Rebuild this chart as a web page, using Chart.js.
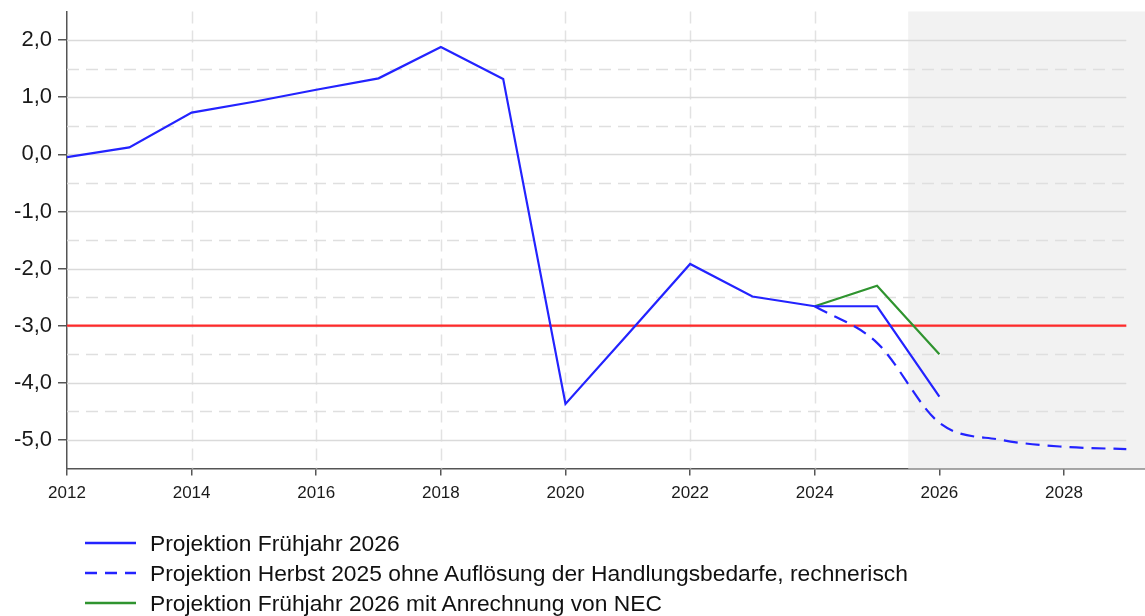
<!DOCTYPE html>
<html><head><meta charset="utf-8">
<script src="https://cdn.jsdelivr.net/npm/chart.js@4.4.1/dist/chart.umd.min.js"></script>
<style>
html,body{margin:0;padding:0;background:#fff;}
#wrap{position:relative;width:1145px;height:616px;overflow:hidden;font-family:"Liberation Sans",Arial,sans-serif;}
#cbox{position:absolute;left:0;top:0;width:1145px;height:516px;}
#legend{position:absolute;left:0;top:0;width:1145px;height:616px;pointer-events:none;}
.li{position:absolute;left:85px;height:30px;display:flex;align-items:center;white-space:nowrap;font-size:22.8px;color:#111;}
.li svg{margin-right:14px;}
</style>
</head><body>
<div id="wrap">
  <div id="cbox"><canvas id="c"></canvas></div>
  <div id="legend"></div>
</div>
<script>
// ---- data ----
const years = [2012,2013,2014,2015,2016,2017,2018,2019,2020,2021,2022,2023,2024,2025,2026];
const fruehjahr2026 = [-0.05,0.12,0.73,0.92,1.13,1.33,1.88,1.32,-4.37,-3.15,-1.92,-2.49,-2.66,-2.66,-4.24];
const herbstYears = [2024,2025,2026,2027,2028,2029];
const herbst2025 = [-2.66,-3.30,-4.70,-5.00,-5.12,-5.16];
const necYears = [2024,2025,2026];
const nec = [-2.66,-2.30,-3.50];
const refYears = [2012,2029];
const referenzwert = [-3,-3];
const xTicks = [2012,2014,2016,2018,2020,2022,2024,2026,2028];
const yTicks = [-5,-4,-3,-2,-1,0,1,2];
const labels = ["Projektion Frühjahr 2026","Projektion Herbst 2025 ohne Auflösung der Handlungsbedarfe, rechnerisch","Projektion Frühjahr 2026 mit Anrechnung von NEC","Referenzwert -3 %"];
const projectionStart = 2025.5;

const pts = (xs, ys) => xs.map((x,i)=>({x:x, y:ys[i]}));
const BLUE = '#2323ff', GREEN = '#2f942f', RED = '#ff2a2a';

const bgPlugin = {
  id:'bg',
  beforeDatasetsDraw(chart){
    const {ctx, chartArea:a, scales:{x,y}} = chart;
    ctx.save();
    ctx.fillStyle = '#f2f2f2';
    const sx = x.getPixelForValue(projectionStart);
    ctx.fillRect(sx, a.top, a.right - sx, a.bottom - a.top);
    ctx.strokeStyle = '#e2e2e2';
    ctx.lineWidth = 1.5;
    ctx.setLineDash([12,7]);
    xTicks.filter(v=>v>2012 && v<projectionStart).forEach(v=>{
      const px = Math.round(x.getPixelForValue(v))+0.5;
      ctx.beginPath(); ctx.moveTo(px,a.top); ctx.lineTo(px,a.bottom); ctx.stroke();
    });
    const x0 = x.getPixelForValue(refYears[0]), x1 = x.getPixelForValue(refYears[1]);
    for (let v = yTicks[0]; v <= yTicks[yTicks.length-1]; v += 0.5){
      const py = Math.round(y.getPixelForValue(v))+0.5;
      ctx.setLineDash(Number.isInteger(v) ? [] : [12,7]);
      ctx.strokeStyle = Number.isInteger(v) ? '#dadada' : '#dfdfdf';
      ctx.lineWidth = 1.6;
      ctx.beginPath(); ctx.moveTo(x0,py); ctx.lineTo(x1,py); ctx.stroke();
    }
    ctx.restore();
  }
};

const chart = new Chart(document.getElementById('c'), {
  type:'line',
  data:{
    datasets:[
      {label:labels[0], data:pts(years,fruehjahr2026), borderColor:BLUE, backgroundColor:BLUE, borderWidth:2.2, pointRadius:0, tension:0},
      {label:labels[1], data:pts(herbstYears,herbst2025), borderColor:BLUE, backgroundColor:BLUE, borderWidth:2.2, borderDash:[14,8], pointRadius:0, cubicInterpolationMode:'monotone'},
      {label:labels[2], data:pts(necYears,nec), borderColor:GREEN, backgroundColor:GREEN, borderWidth:2.2, pointRadius:0, tension:0},
      {label:labels[3], data:pts(refYears,referenzwert), borderColor:RED, backgroundColor:RED, borderWidth:2.2, pointRadius:0, tension:0, order:10}
    ]
  },
  options:{
    responsive:true, maintainAspectRatio:false, animation:false,
    layout:{padding:{top:11.5,right:0,left:0,bottom:0}},
    plugins:{legend:{display:false}, tooltip:{enabled:false}},
    scales:{
      x:{
        type:'linear', min:2012, max:2029.3,
        afterBuildTicks:s=>{s.ticks = xTicks.map(v=>({value:v}));},
        afterFit:s=>{s.height = 47.5; s.paddingLeft = 0; s.paddingRight = 0;},
        grid:{drawOnChartArea:false, drawTicks:true, tickLength:7, color:'#555', lineWidth:1.5},
        border:{display:true, color:'#555', width:1.5},
        ticks:{font:{family:'Liberation Sans', size:17}, color:'#1a1a1a', padding:8, maxRotation:0, autoSkip:false, callback:v=>String(v)}
      },
      y:{
        type:'linear', min:-5.5, max:2.5,
        afterBuildTicks:s=>{s.ticks = yTicks.map(v=>({value:v}));},
        afterFit:s=>{s.width = 67; s.paddingTop = 0; s.paddingBottom = 0;},
        grid:{drawOnChartArea:false, drawTicks:true, tickLength:9, color:'#555', lineWidth:1.5},
        border:{display:true, color:'#555', width:1.5},
        ticks:{font:{family:'Liberation Sans', size:22}, color:'#1a1a1a', padding:6, callback:v=>v.toFixed(1).replace('.',',')}
      }
    }
  },
  plugins:[bgPlugin]
});

// HTML legend generated from the chart's datasets (reference line excluded)
const leg = document.getElementById('legend');
const rowTops = [528, 558, 588];
chart.data.datasets.slice(0,3).forEach((ds,i)=>{
  const d = document.createElement('div');
  d.className = 'li';
  d.style.top = rowTops[i] + 'px';
  const dash = ds.borderDash ? 'stroke-dasharray="12,8"' : '';
  d.innerHTML = '<svg width="51" height="4"><line x1="0" y1="2" x2="51" y2="2" stroke="'+ds.borderColor+'" stroke-width="2.4" '+dash+'/></svg><span></span>';
  d.querySelector('span').textContent = ds.label;
  leg.appendChild(d);
});
</script>
</body></html>
